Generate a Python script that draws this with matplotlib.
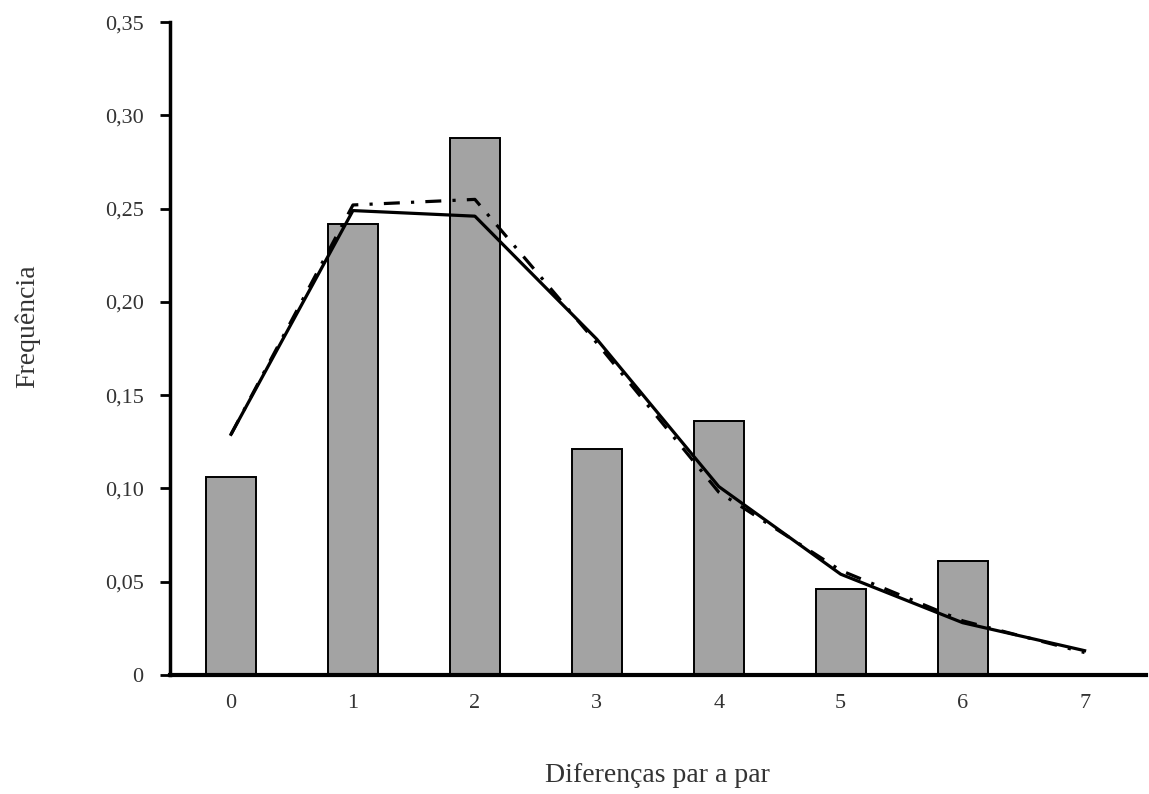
import matplotlib
matplotlib.use("Agg")
import matplotlib.pyplot as plt

# pairwise differences (mismatch distribution)
diferencas = [0, 1, 2, 3, 4, 5, 6, 7]
observado = [0.106, 0.242, 0.288, 0.121, 0.136, 0.046, 0.061, 0.0]
esperado = [0.129, 0.249, 0.246, 0.180, 0.101, 0.054, 0.028, 0.013]
esperado2 = [0.129, 0.252, 0.255, 0.178, 0.098, 0.056, 0.029, 0.012]
yticks = [0, 0.05, 0.10, 0.15, 0.20, 0.25, 0.30, 0.35]
ytick_labels = ["0", "0,05", "0,10", "0,15", "0,20", "0,25", "0,30", "0,35"]

plt.rcParams['font.family'] = ['Liberation Serif', 'DejaVu Serif']

fig = plt.figure(figsize=(11.49, 7.94), dpi=100)
ax = fig.add_axes([0.148, 0.150, 0.849, 0.822])

ax.bar(diferencas, observado, width=0.41, color='#a3a3a3', edgecolor='black', linewidth=1.4, zorder=2)
ax.plot(diferencas, esperado2, color='black', linewidth=2.3,
        linestyle=(0, (5, 3.5, 1, 3.5)), zorder=3)
ax.plot(diferencas, esperado, color='black', linewidth=2.3, zorder=4)

ax.set_xlim(-0.5, 7.5)
ax.set_ylim(0, 0.35)
ax.set_xticks(diferencas)
ax.set_xticklabels([str(d) for d in diferencas])
ax.set_yticks(yticks)
ax.set_yticklabels(ytick_labels)

for side in ['top', 'right']:
    ax.spines[side].set_visible(False)
ax.spines['left'].set_linewidth(2.5)
ax.spines['bottom'].set_linewidth(3)
ax.tick_params(axis='x', length=0, pad=14, labelsize=16, labelcolor='#333333')
ax.tick_params(axis='y', length=7, width=2, direction='out', pad=12, labelsize=16, labelcolor='#333333')

ax.set_xlabel("Diferenças par a par", fontsize=20, color='#333333', labelpad=36)
ax.set_ylabel("Frequência", fontsize=20, color='#333333')
ax.yaxis.set_label_coords(-0.133, 0.535)

fig.savefig("out.png", dpi=100)
